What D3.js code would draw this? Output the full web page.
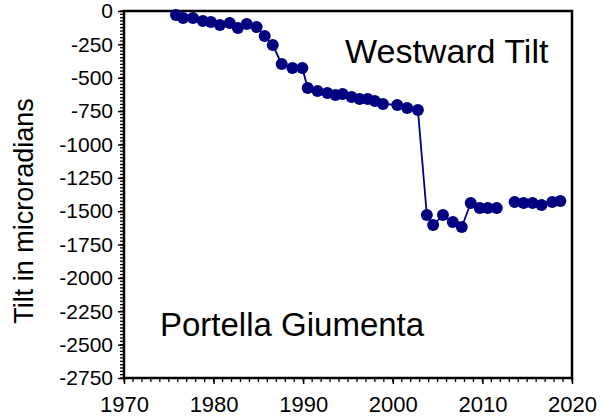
<!DOCTYPE html>
<html>
<head>
<meta charset="utf-8">
<script src="https://cdn.jsdelivr.net/npm/d3@7"></script>
<style>
  html, body { margin: 0; padding: 0; background: #fff; }
  svg { display: block; font-family: "Liberation Sans", Arial, sans-serif; }
</style>
</head>
<body>
<svg id="chart" width="600" height="417"></svg>
<script>
// ---- data ----
const years = [1975.8, 1976.6, 1977.7, 1978.8, 1979.7, 1980.7, 1981.8, 1982.7, 1983.7, 1984.8,
               1985.7, 1986.6, 1987.6, 1988.8, 1989.9, 1990.5, 1991.6, 1992.7, 1993.6, 1994.4,
               1995.4, 1996.3, 1997.2, 1998.0, 1998.9, 2000.5, 2001.6, 2002.8, 2003.8, 2004.5,
               2005.6, 2006.7, 2007.7, 2008.7, 2009.7, 2010.6, 2011.6, 2012.6, 2013.6, 2014.6,
               2015.6, 2016.6, 2017.8, 2018.7];
const tilt  = [-30, -52, -52, -75, -82, -105, -90, -127, -97, -120,
               -187, -255, -397, -427, -427, -577, -600, -614, -629, -622,
               -644, -659, -659, -674, -697, -704, -727, -742, -1529, -1604,
               -1529, -1581, -1619, -1439, -1476, -1476, -1476, null, -1431, -1439,
               -1439, -1454, -1431, -1424];
const yTicks = [0, -250, -500, -750, -1000, -1250, -1500, -1750, -2000, -2250, -2500, -2750];
const xTicks = [1970, 1980, 1990, 2000, 2010, 2020];
const yTitle = "Tilt in microradians";
const label1 = "Westward Tilt";
const label2 = "Portella Giumenta";

const svg = d3.select("#chart");
const L = 124, R = 572, T = 11, B = 378;
const color = "#000080";
const fmt = d => String(d); // plain hyphen-minus as in the reference

const x = d3.scaleLinear().domain([1970, 2020]).range([L, R]);
const y = d3.scaleLinear().domain([-2750, 0]).range([B, T]);

// minor ticks
const yMinor = d3.range(-2750, 0.1, 25);
const xMinor = d3.range(1970, 2020.1, 1);

const gY = svg.append("g").attr("transform", `translate(${L},0)`);
gY.selectAll("line.minor").data(yMinor).join("line")
  .attr("x1", -4).attr("x2", 0)
  .attr("y1", d => y(d)).attr("y2", d => y(d))
  .attr("stroke", "#000").attr("stroke-width", 1.3);
gY.call(d3.axisLeft(y).tickValues(yTicks).tickSize(6).tickPadding(5).tickFormat(fmt))
  .call(g => g.select(".domain").remove())
  .call(g => g.selectAll(".tick line").attr("stroke-width", 1.5))
  .call(g => g.selectAll("text").attr("font-size", 21).attr("fill", "#000")
      .attr("font-family", '"Liberation Sans", Arial, sans-serif'));

const gX = svg.append("g").attr("transform", `translate(0,${B})`);
gX.selectAll("line.minor").data(xMinor).join("line")
  .attr("x1", d => x(d)).attr("x2", d => x(d))
  .attr("y1", 0).attr("y2", 4)
  .attr("stroke", "#000").attr("stroke-width", 1.3);
gX.call(d3.axisBottom(x).tickValues(xTicks).tickSize(6).tickPadding(12).tickFormat(fmt))
  .call(g => g.select(".domain").remove())
  .call(g => g.selectAll(".tick line").attr("stroke-width", 1.5))
  .call(g => g.selectAll("text").attr("font-size", 22).attr("fill", "#000")
      .attr("font-family", '"Liberation Sans", Arial, sans-serif'));

// frame
svg.append("rect")
  .attr("x", L).attr("y", T).attr("width", R - L).attr("height", B - T)
  .attr("fill", "none").attr("stroke", "#000").attr("stroke-width", 2.5);

// data line
const pts = years.map((yr, i) => ({ yr, v: tilt[i] }));
const line = d3.line().defined(d => d.v !== null).x(d => x(d.yr)).y(d => y(d.v));
svg.append("path").datum(pts)
  .attr("d", line).attr("fill", "none")
  .attr("stroke", color).attr("stroke-width", 1.8);
svg.selectAll("circle.pt").data(pts.filter(d => d.v !== null)).join("circle")
  .attr("cx", d => x(d.yr)).attr("cy", d => y(d.v)).attr("r", 6)
  .attr("fill", color);

// texts
svg.append("text").attr("x", 345).attr("y", 63)
  .attr("font-size", 34).attr("fill", "#000").text(label1);
svg.append("text").attr("x", 160).attr("y", 336)
  .attr("font-size", 33).attr("fill", "#000").text(label2);
svg.append("text")
  .attr("transform", `translate(33,${211}) rotate(-90)`)
  .attr("text-anchor", "middle").attr("font-size", 27).attr("fill", "#000")
  .text(yTitle);
</script>
</body>
</html>
